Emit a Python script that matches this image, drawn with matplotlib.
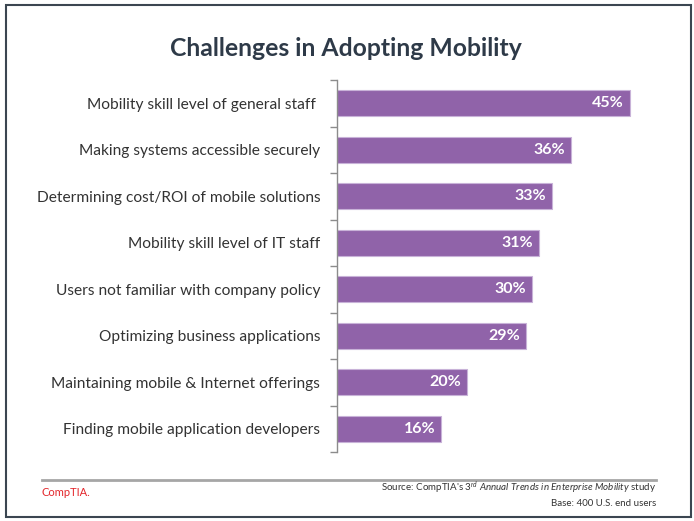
import matplotlib
matplotlib.use("Agg")
import matplotlib.pyplot as plt
from matplotlib.patches import Rectangle
from matplotlib.lines import Line2D

categories = [
    "Mobility skill level of general staff ",
    "Making systems accessible securely",
    "Determining cost/ROI of mobile solutions",
    "Mobility skill level of IT staff",
    "Users not familiar with company policy",
    "Optimizing business applications",
    "Maintaining mobile & Internet offerings",
    "Finding mobile application developers",
]
values = [45, 36, 33, 31, 30, 29, 20, 16]
value_labels = ["45%", "36%", "33%", "31%", "30%", "29%", "20%", "16%"]

W, H = 694, 521
plt.rcParams['font.family'] = ['Lato', 'DejaVu Sans']
plt.rcParams['mathtext.fontset'] = 'custom'
plt.rcParams['mathtext.rm'] = 'Lato'
plt.rcParams['mathtext.it'] = 'Lato:italic'
plt.rcParams['mathtext.bf'] = 'Lato:bold'
fig = plt.figure(figsize=(W / 100, H / 100), dpi=100)
fig.patch.set_facecolor("white")

# outer frame
fig.add_artist(Rectangle((6 / W, 1 - 517 / H), (691 - 6) / W, (517 - 5) / H,
                         transform=fig.transFigure, fill=False,
                         edgecolor="#3b4651", linewidth=1.5))

ax_l, ax_r = 337 / W, 662 / W
ax_t, ax_b = 1 - 80 / H, 1 - 452 / H
ax = fig.add_axes([ax_l, ax_b, ax_r - ax_l, ax_t - ax_b])

y = list(range(len(categories)))
ax.barh(y, values, height=0.56, color="#9063a9", edgecolor="#c8b2d8", linewidth=0.8)
ax.set_xlim(0, 50)
ax.set_ylim(len(categories) - 0.5, -0.5)

for yi, v, lab in zip(y, values, value_labels):
    ax.annotate(lab, (v, yi), xytext=(-4, 0), textcoords="offset points",
                ha="right", va="center", color="white", fontsize=11.5,
                fontweight="bold")

for s in ["top", "right", "bottom"]:
    ax.spines[s].set_visible(False)
ax.spines["left"].set_color("#8c8c8c")
ax.spines["left"].set_linewidth(1.0)
ax.set_xticks([])
ax.set_yticks(y)
ax.set_yticklabels(categories, fontsize=11.2, color="#333333")
ax.tick_params(axis="y", which="major", length=0, pad=12)
ax.set_yticks([i - 0.5 for i in range(len(categories) + 1)], minor=True)
ax.tick_params(axis="y", which="minor", length=5, color="#8c8c8c", width=1.0)

fig.text(346 / W, 1 - 48 / H, "Challenges in Adopting Mobility", ha="center",
         va="center", fontsize=17.8, fontweight="bold", color="#2e3a48")

# footer
fig.add_artist(Line2D([42 / W, 656 / W], [1 - 480 / H, 1 - 480 / H],
                      transform=fig.transFigure, color="#a6a6a6", linewidth=2))
fig.text(42 / W, 1 - 493 / H, "CompTIA.", ha="left", va="center",
         fontsize=8, color="#e3262b")
fig.text(656 / W, 1 - 488 / H,
         r"Source: CompTIA's 3$^{rd}$ $\it{Annual\ Trends\ in\ Enterprise\ Mobility}$ study",
         ha="right", va="center", fontsize=7.0, color="#333333")
fig.text(656 / W, 1 - 503 / H, "Base: 400 U.S. end users", ha="right",
         va="center", fontsize=7.0, color="#333333")

fig.savefig("out.png", dpi=100, facecolor="white")
